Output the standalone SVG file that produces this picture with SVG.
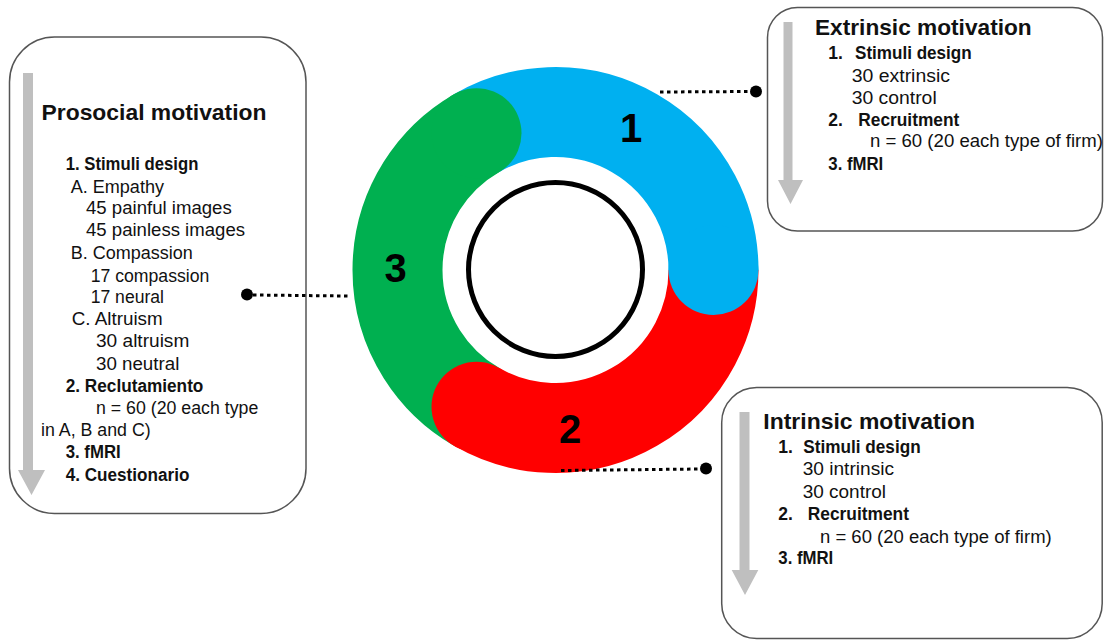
<svg xmlns="http://www.w3.org/2000/svg" width="1104" height="641" viewBox="0 0 1104 641">
<style>
.box{fill:#fff;stroke:#555;stroke-width:1.5}
.arrow{fill:#bfbfbf}
.t{font-family:"Liberation Sans",Arial,sans-serif;font-size:17.5px;fill:#111}
.b{font-weight:bold}
.h{font-family:"Liberation Sans",Arial,sans-serif;font-size:22px;font-weight:bold;fill:#111}
.num{font-family:"Liberation Sans",Arial,sans-serif;font-size:40px;font-weight:bold;fill:#000;text-anchor:middle}
.seg{fill:none;stroke-width:90;stroke-linecap:butt}
.dots{stroke:#000;stroke-width:3;stroke-dasharray:3.5 3.5;fill:none}
</style>
<rect width="1104" height="641" fill="#fff"/>

<g id="ring">
  <path class="seg" stroke="#00B0F0" d="M476.5,133.17 A158,158 0 0 1 713.5,270"/>
  <path class="seg" stroke="#FF0000" d="M713.5,270 A158,158 0 0 1 476.5,406.83"/>
  <path class="seg" stroke="#00B050" d="M476.5,406.83 A158,158 0 0 1 476.5,133.17"/>
  <circle cx="713.5" cy="270" r="45" fill="#00B0F0"/>
  <circle cx="476.5" cy="406.83" r="45" fill="#FF0000"/>
  <circle cx="476.5" cy="133.17" r="45" fill="#00B050"/>
  <circle cx="555.5" cy="269.5" r="87" fill="none" stroke="#000" stroke-width="5"/>
  <text class="num" x="631" y="142">1</text>
  <text class="num" x="570" y="443">2</text>
  <text class="num" x="395.5" y="282">3</text>
</g>

<g id="node-prosocial">
  <rect class="box" x="9.5" y="37" width="296.5" height="476.5" rx="45" ry="45"/>
  <polygon class="arrow" points="23,73 33,73 33,470 45,470 31.5,495 18,470 23,470"/>
  <text class="h" x="41.5" y="120" textLength="225" lengthAdjust="spacingAndGlyphs">Prosocial motivation</text>
  <text class="t b" x="65.7" y="170" textLength="132.7" lengthAdjust="spacingAndGlyphs">1. Stimuli design</text>
  <text class="t" x="70.7" y="192.5" textLength="93.3" lengthAdjust="spacingAndGlyphs">A. Empathy</text>
  <text class="t" x="86" y="214" textLength="145.7" lengthAdjust="spacingAndGlyphs">45 painful images</text>
  <text class="t" x="86" y="236" textLength="159" lengthAdjust="spacingAndGlyphs">45 painless images</text>
  <text class="t" x="70.7" y="259" textLength="122" lengthAdjust="spacingAndGlyphs">B. Compassion</text>
  <text class="t" x="90.7" y="281.5" textLength="118.7" lengthAdjust="spacingAndGlyphs">17 compassion</text>
  <text class="t" x="90.7" y="303" textLength="73.3" lengthAdjust="spacingAndGlyphs">17 neural</text>
  <text class="t" x="71.7" y="325" textLength="91" lengthAdjust="spacingAndGlyphs">C. Altruism</text>
  <text class="t" x="96" y="347" textLength="93.3" lengthAdjust="spacingAndGlyphs">30 altruism</text>
  <text class="t" x="96" y="370" textLength="83.3" lengthAdjust="spacingAndGlyphs">30 neutral</text>
  <text class="t b" x="65.7" y="392" textLength="137.7" lengthAdjust="spacingAndGlyphs">2. Reclutamiento</text>
  <text class="t" x="96" y="414" textLength="162.3" lengthAdjust="spacingAndGlyphs">n = 60 (20 each type</text>
  <text class="t" x="41" y="436" textLength="109.7" lengthAdjust="spacingAndGlyphs">in A, B and C)</text>
  <text class="t b" x="65.7" y="458" textLength="55" lengthAdjust="spacingAndGlyphs">3. fMRI</text>
  <text class="t b" x="65.7" y="480.5" textLength="123.7" lengthAdjust="spacingAndGlyphs">4. Cuestionario</text>
</g>

<g id="node-extrinsic">
  <rect class="box" x="767.5" y="7.5" width="335" height="223.5" rx="30" ry="30"/>
  <polygon class="arrow" points="783.5,22 792.5,22 792.5,180 803,180 790.5,204 778,180 783.5,180"/>
  <text class="h" x="815" y="35" textLength="216.7" lengthAdjust="spacingAndGlyphs">Extrinsic motivation</text>
  <text class="t b" x="828.3" y="59.3">1.</text>
  <text class="t b" x="855" y="59.3" textLength="116.7" lengthAdjust="spacingAndGlyphs">Stimuli design</text>
  <text class="t" x="851.7" y="81.7" textLength="98.3" lengthAdjust="spacingAndGlyphs">30 extrinsic</text>
  <text class="t" x="851.7" y="103.5" textLength="85" lengthAdjust="spacingAndGlyphs">30 control</text>
  <text class="t b" x="828.3" y="126">2.</text>
  <text class="t b" x="858.3" y="126" textLength="101" lengthAdjust="spacingAndGlyphs">Recruitment</text>
  <text class="t" x="870" y="147" textLength="233" lengthAdjust="spacingAndGlyphs">n = 60 (20 each type of firm)</text>
  <text class="t b" x="828.3" y="170" textLength="55" lengthAdjust="spacingAndGlyphs">3. fMRI</text>
</g>

<g id="node-intrinsic">
  <rect class="box" x="721.7" y="387.5" width="380.5" height="251" rx="35" ry="35"/>
  <polygon class="arrow" points="739.5,412 749.5,412 749.5,570 758.3,570 745,595 731.7,570 739.5,570"/>
  <text class="h" x="763.3" y="429.3" textLength="211.7" lengthAdjust="spacingAndGlyphs">Intrinsic motivation</text>
  <text class="t b" x="778.3" y="452.7">1.</text>
  <text class="t b" x="803.3" y="452.7" textLength="117.4" lengthAdjust="spacingAndGlyphs">Stimuli design</text>
  <text class="t" x="802.7" y="474.5" textLength="91.3" lengthAdjust="spacingAndGlyphs">30 intrinsic</text>
  <text class="t" x="802.7" y="498.3" textLength="83.3" lengthAdjust="spacingAndGlyphs">30 control</text>
  <text class="t b" x="778.3" y="520">2.</text>
  <text class="t b" x="807.7" y="520" textLength="101.3" lengthAdjust="spacingAndGlyphs">Recruitment</text>
  <text class="t" x="820" y="542.7" textLength="231.7" lengthAdjust="spacingAndGlyphs">n = 60 (20 each type of firm)</text>
  <text class="t b" x="778.3" y="564" textLength="55" lengthAdjust="spacingAndGlyphs">3. fMRI</text>
</g>

<g id="connectors">
  <line class="dots" x1="660" y1="92" x2="751" y2="91.5"/>
  <circle cx="756" cy="91.5" r="6" fill="#000"/>
  <line class="dots" x1="253" y1="295" x2="348" y2="296"/>
  <circle cx="247" cy="294.5" r="6" fill="#000"/>
  <line class="dots" x1="561" y1="470.5" x2="700" y2="469"/>
  <circle cx="706" cy="468.5" r="6" fill="#000"/>
</g>
</svg>
